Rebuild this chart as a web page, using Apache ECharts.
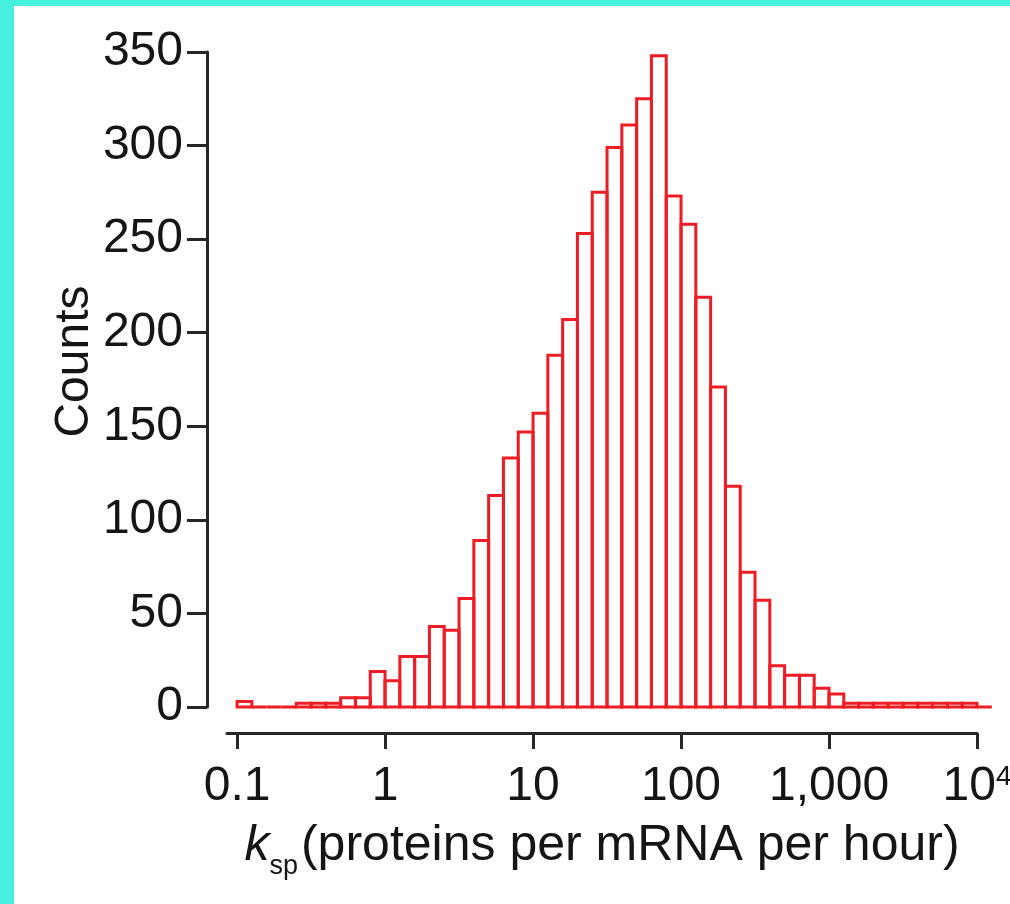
<!DOCTYPE html>
<html>
<head>
<meta charset="utf-8">
<title>k_sp histogram</title>
<script src="https://cdn.jsdelivr.net/npm/echarts@6/dist/echarts.min.js"></script>
<style>
html, body { margin: 0; padding: 0; background: #fff; }
#main {
    width: 996px;
    height: 898px;
    border-left: 14px solid #46f0de;
    border-top: 6px solid #46f0de;
    background: #fff;
}
</style>
</head>
<body>
<div id="main"></div>
<script>
// bins are 0.1 decade wide, first edge at 0.1 (log10 = -1)
var binStart = -1;
var binStep = 0.1;
var counts = [3, 0, 0, 0, 2, 2, 2, 5, 5, 19,
    14, 27, 27, 43, 41, 58, 89, 113, 133, 147,
    157, 188, 207, 253, 275, 299, 311, 325, 348, 273,
    258, 219, 171, 118, 72, 57, 22, 17, 17, 10,
    7, 2, 2, 2, 2, 2, 2, 2, 2, 2,
    0];
var xTickValues = [-1, 0, 1, 2, 3, 4];
var xTickLabels = ['0.1', '1', '10', '100', '1,000', '{n|10}{sup|4}'];
var yMax = 350;
var yStep = 50;

var axisColor = '#262626';
var barColor = '#ee1c25';
var textColor = '#151515';
var font = "'Liberation Sans', Arial, sans-serif";

var bins = counts.map(function (c, i) {
    var lo = binStart + i * binStep;
    return [lo, lo + binStep, c];
});

function renderBin(params, api) {
    var p0 = api.coord([api.value(0), api.value(2)]);
    var p1 = api.coord([api.value(1), 0]);
    return {
        type: 'rect',
        shape: { x: p0[0], y: p0[1], width: p1[0] - p0[0], height: p1[1] - p0[1] },
        style: { fill: 'none', stroke: barColor, lineWidth: 3 }
    };
}

var chart = echarts.init(document.getElementById('main'));
chart.setOption({
    animation: false,
    grid: { left: 213, right: 33, top: 46, bottom: 197, outerBoundsMode: 'none' },
    xAxis: {
        type: 'value',
        min: -1.068,
        max: 4,
        offset: 26,
        splitLine: { show: false },
        axisLine: { onZero: false, lineStyle: { color: axisColor, width: 3 } },
        axisTick: { customValues: xTickValues, length: 16, lineStyle: { color: axisColor, width: 3 } },
        axisLabel: {
            customValues: xTickValues,
            margin: 30,
            color: textColor,
            fontFamily: font,
            fontSize: 48,
            formatter: function (v) {
                var i = xTickValues.indexOf(Math.round(v));
                return i < 0 ? '' : xTickLabels[i];
            },
            rich: {
                n: { fontFamily: font, fontSize: 48, color: textColor, lineHeight: 48 },
                sup: { fontFamily: font, fontSize: 28, color: textColor, lineHeight: 28, verticalAlign: 'top' }
            }
        },
        name: '{k|k}{s|sp}{t|(proteins per mRNA per hour)}',
        nameLocation: 'middle',
        nameGap: 88,
        nameMoveOverlap: false,
        nameTextStyle: {
            rich: {
                k: { fontFamily: font, fontSize: 50, fontStyle: 'italic', color: textColor, lineHeight: 50, verticalAlign: 'top' },
                s: { fontFamily: font, fontSize: 27, color: textColor, lineHeight: 27, padding: [32, 0, 0, 0], verticalAlign: 'top' },
                t: { fontFamily: font, fontSize: 50, color: textColor, lineHeight: 50, padding: [0, 0, 0, 3], verticalAlign: 'top' }
            }
        }
    },
    yAxis: {
        type: 'value',
        min: 0,
        max: yMax,
        interval: yStep,
        offset: 20,
        splitLine: { show: false },
        axisLine: { show: true, onZero: false, lineStyle: { color: axisColor, width: 3 } },
        axisTick: { show: true, length: 20, lineStyle: { color: axisColor, width: 3 } },
        axisLabel: { margin: 24, color: textColor, fontFamily: font, fontSize: 48 },
        name: 'Counts',
        nameLocation: 'middle',
        nameGap: 108,
        nameMoveOverlap: false,
        nameTextStyle: { fontFamily: font, fontSize: 48, color: textColor, padding: [0, 0, 0, 36] }
    },
    series: [{
        type: 'custom',
        renderItem: renderBin,
        clip: false,
        encode: { x: [0, 1], y: 2 },
        data: bins
    }]
});
</script>
</body>
</html>
